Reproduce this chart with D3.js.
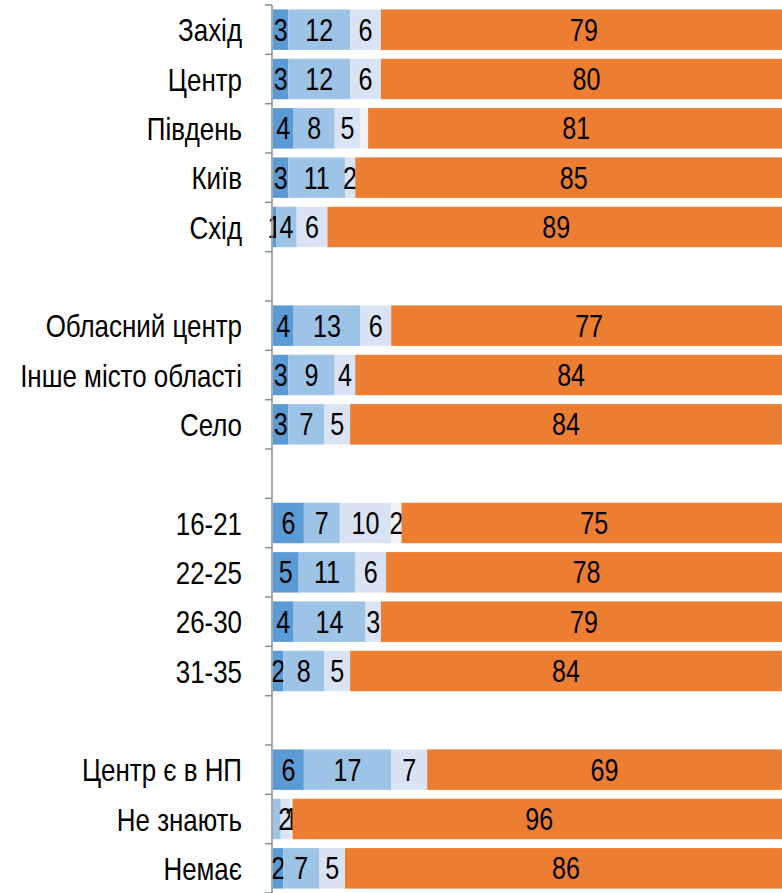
<!DOCTYPE html>
<html>
<head>
<meta charset="utf-8">
<script src="https://cdn.jsdelivr.net/npm/d3@7"></script>
<style>
  body { margin: 0; background: #fff; }
  #chart text { font-family: "Liberation Sans", Arial, sans-serif; fill: #000; }
</style>
</head>
<body>
<div id="chart"></div>
<script>
// categories, blank names are the spacer rows between groups
const categories = ["Захід", "Центр", "Південь", "Київ", "Схід", "",
    "Обласний центр", "Інше місто області", "Село", " ",
    "16-21", "22-25", "26-30", "31-35", "  ",
    "Центр є в НП", "Не знають", "Немає"];

// series values (percent), null on spacer rows
const darkBlue  = [3, 3, 4, 3, 0.6, null, 4, 3, 3, null, 6, 5, 4, 2, null, 6, 0, 2];
const lightBlue = [12, 12, 8, 11, 4, null, 13, 9, 7, null, 7, 11, 14, 8, null, 17, 1.5, 7];
const veryLight = [6, 6, 5, 2, 6, null, 6, 4, 5, null, 10, 6, 3, 5, null, 7, 1.8, 5];
const greyPart  = [0, 0, 1.5, 0, 0, null, 0, 0, 0, null, 2, 0, 0, 0, null, 0, 0.5, 0];
const orange    = [79, 80, 81, 85, 89, null, 77, 84, 84, null, 75, 78, 79, 84, null, 69, 96, 86];

// labels the original leaves out
const hiddenLabels = [["Південь", "grey"], ["Не знають", "lightBlue"]];

const seriesKeys = ["darkBlue", "lightBlue", "veryLight", "grey", "orange"];
const seriesValues = [darkBlue, lightBlue, veryLight, greyPart, orange];
const seriesColors = ["#5B9BD5", "#9DC3E6", "#DAE3F3", "#F2F2F2", "#ED7D31"];

const width = 782, height = 893;
const margin = { top: 5, left: 272 };
const narrow = 0.81;   // no Arial Narrow here, so squeeze the regular face

const svg = d3.select("#chart").append("svg")
    .attr("width", width)
    .attr("height", height);

// build rows for the stack
const rows = categories.map((c, i) => {
    const r = { cat: c, spacer: darkBlue[i] === null };
    seriesKeys.forEach((k, j) => r[k] = seriesValues[j][i] || 0);
    return r;
});

const stacked = d3.stack().keys(seriesKeys)(rows.filter(r => !r.spacer));

const x = d3.scaleLinear()
    .domain([0, 100])
    .range([margin.left + 1, margin.left + 1 + 514]);

const y = d3.scaleBand()
    .domain(categories)
    .range([margin.top, height])
    .paddingInner(0.18)
    .paddingOuter(0.09);

const fmt = d3.format(".0f");
const isHidden = (cat, key) => hiddenLabels.some(h => h[0] === cat && h[1] === key);

const layers = svg.selectAll(".layer")
    .data(stacked)
    .enter().append("g")
    .attr("class", "layer")
    .attr("fill", (d, i) => seriesColors[i]);

layers.selectAll("rect")
    .data(d => d)
    .enter().append("rect")
    .attr("x", d => x(d[0]))
    .attr("y", d => y(d.data.cat))
    .attr("width", d => x(d[1]) - x(d[0]))
    .attr("height", y.bandwidth());

layers.selectAll("text")
    .data(d => d.filter(s => (s[1] - s[0]) > 0 && !isHidden(s.data.cat, d.key)))
    .enter().append("text")
    .attr("transform", d => "translate(" + (x(d[0]) + x(d[1])) / 2 + "," + (y(d.data.cat) + y.bandwidth() / 2) + ") scale(" + narrow + ",1)")
    .attr("dy", "0.36em")
    .attr("text-anchor", "middle")
    .style("font-size", "31px")
    .text(d => fmt(Math.max(1, d[1] - d[0])));

// axis with ticks at band boundaries
const axisG = svg.append("g");
const step = y.step();
const bounds = d3.range(categories.length + 1).map(i => margin.top + i * step);

axisG.append("line")
    .attr("x1", margin.left).attr("x2", margin.left)
    .attr("y1", bounds[0]).attr("y2", height)
    .attr("stroke", "#8C8C8C")
    .attr("stroke-width", 1.5);

axisG.selectAll(".tick")
    .data(bounds)
    .enter().append("line")
    .attr("class", "tick")
    .attr("x1", margin.left - 7).attr("x2", margin.left)
    .attr("y1", d => d).attr("y2", d => d)
    .attr("stroke", "#8C8C8C")
    .attr("stroke-width", 1.5);

axisG.selectAll(".cat")
    .data(categories.filter(c => c.trim() !== ""))
    .enter().append("text")
    .attr("class", "cat")
    .attr("transform", d => "translate(242," + (y(d) + y.bandwidth() / 2) + ") scale(" + narrow + ",1)")
    .attr("dy", "0.36em")
    .attr("text-anchor", "end")
    .style("font-size", "32px")
    .text(d => d);
</script>
</body>
</html>
